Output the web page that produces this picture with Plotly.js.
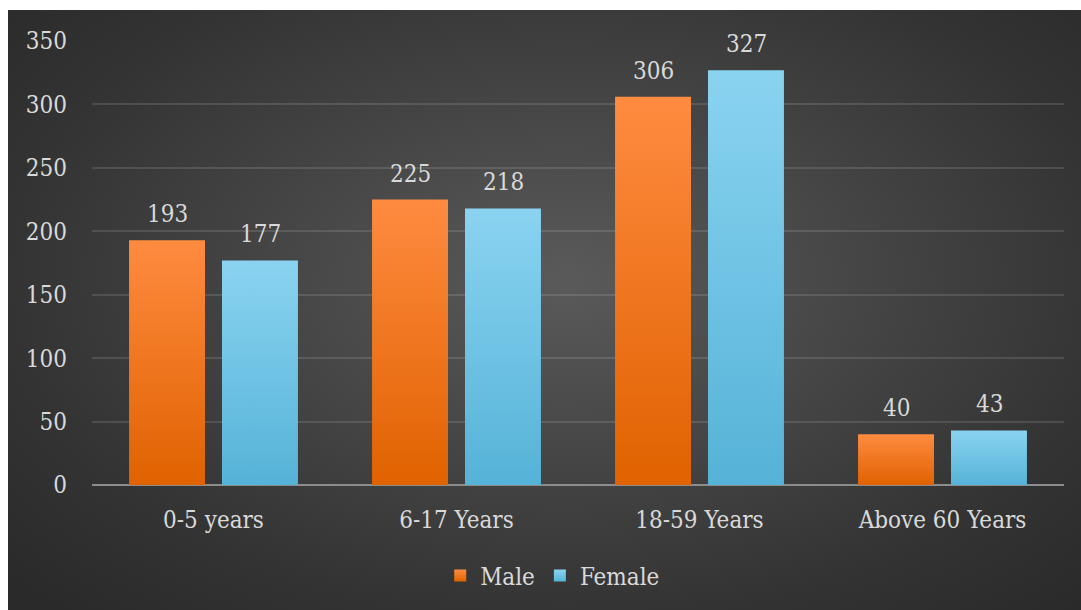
<!DOCTYPE html>
<html>
<head>
<meta charset="utf-8">
<script src="https://cdn.plot.ly/plotly-3.0.1.min.js"></script>
<style>
  html, body { margin: 0; padding: 0; background: #ffffff; }
  #chart {
    position: absolute; left: 8px; top: 10px; width: 1073px; height: 600px;
    background: radial-gradient(ellipse 70% 75% at 52% 45%, #5a5a5a 0%, #454545 40%, #333333 75%, #2a2a2a 100%);
  }
</style>
</head>
<body>
<div id="chart"></div>
<script>
const categories = ["0-5 years", "6-17 Years", "18-59 Years", "Above 60 Years"];
const maleValues = [193, 225, 306, 40];
const femaleValues = [177, 218, 327, 43];
const seriesNames = ["Male", "Female"];

const FONT = "DejaVu Serif Condensed, DejaVu Serif, Liberation Serif, serif";
const TXT = "#d9d9d9";
const FS = 24;

const traces = [
  {
    type: "bar", name: seriesNames[0], x: categories, y: maleValues,
    marker: { color: "#f3751b" }
  },
  {
    type: "bar", name: seriesNames[1], x: categories, y: femaleValues,
    marker: { color: "#6ec5e8" }
  }
];

// data labels placed through the axes (category + value), shifted to each bar of the group
const annotations = [];
[maleValues, femaleValues].forEach((vals, si) => {
  vals.forEach((v, i) => {
    annotations.push({
      x: categories[i], y: v, xref: "x", yref: "y",
      text: String(v), showarrow: false, yanchor: "bottom",
      xshift: si === 0 ? -46.5 : 46.5, yshift: 10,
      font: { family: FONT, size: FS, color: TXT }
    });
  });
});

const layout = {
  width: 1073, height: 600,
  paper_bgcolor: "rgba(0,0,0,0)", plot_bgcolor: "rgba(0,0,0,0)",
  margin: { l: 84, r: 17, t: 31, b: 125 },
  font: { family: FONT, size: FS, color: TXT },
  barmode: "group", bargap: 0.235, bargroupgap: 0.183,
  showlegend: true,
  legend: {
    orientation: "h", x: 0.474, xanchor: "center", y: -0.205, yanchor: "middle",
    font: { family: FONT, size: FS, color: TXT }, itemwidth: 30, traceorder: "normal"
  },
  annotations: annotations,
  xaxis: {
    type: "category", showgrid: false, zeroline: false, showline: false,
    ticks: "", ticklabelstandoff: 18,
    tickfont: { family: FONT, size: FS, color: TXT }
  },
  yaxis: {
    range: [0, 350], dtick: 50, tick0: 0, showgrid: true,
    gridcolor: "rgba(255,255,255,0.12)", gridwidth: 2,
    zeroline: true, zerolinecolor: "#8c8c8c", zerolinewidth: 2,
    showline: false, ticks: "", ticklabelstandoff: 24,
    tickfont: { family: FONT, size: FS, color: TXT }
  }
};

// vertical gradient styling of the bars (lighter top, darker bottom)
const gradients = [
  { id: "gradMale", top: "#ff8b40", bottom: "#e06200" },
  { id: "gradFemale", top: "#8ad3f1", bottom: "#55b3d7" }
];

function applyGradients(gd) {
  const NS = "http://www.w3.org/2000/svg";
  const svg = gd.querySelector(".main-svg");
  let defs = svg.querySelector("defs");
  if (!defs) { defs = document.createElementNS(NS, "defs"); svg.insertBefore(defs, svg.firstChild); }
  gradients.forEach(g => {
    if (defs.querySelector("#" + g.id)) return;
    const lg = document.createElementNS(NS, "linearGradient");
    lg.setAttribute("id", g.id);
    lg.setAttribute("x1", "0"); lg.setAttribute("y1", "0");
    lg.setAttribute("x2", "0"); lg.setAttribute("y2", "1");
    [["0", g.top], ["1", g.bottom]].forEach(([off, c]) => {
      const s = document.createElementNS(NS, "stop");
      s.setAttribute("offset", off); s.setAttribute("stop-color", c);
      lg.appendChild(s);
    });
    defs.appendChild(lg);
  });
  gd.querySelectorAll(".barlayer .trace").forEach((tr, i) => {
    tr.querySelectorAll("path").forEach(p => { p.style.fill = "url(#" + gradients[i].id + ")"; });
  });
  gd.querySelectorAll(".legend .traces").forEach((tr, i) => {
    tr.querySelectorAll(".legendpoints path").forEach(p => { p.style.fill = "url(#" + gradients[i].id + ")"; });
  });
}

Plotly.newPlot("chart", traces, layout, { displayModeBar: false, staticPlot: true })
  .then(applyGradients);
</script>
</body>
</html>
